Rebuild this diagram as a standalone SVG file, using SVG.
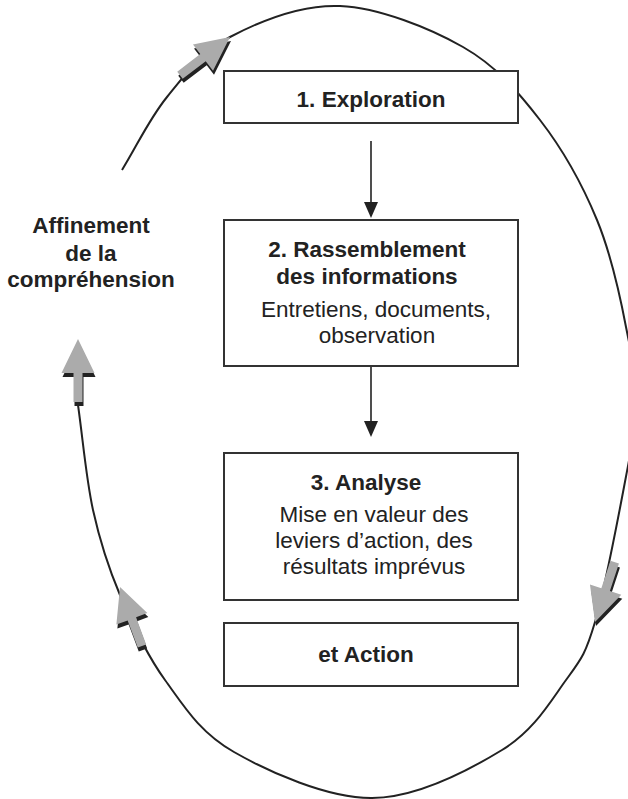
<svg xmlns="http://www.w3.org/2000/svg" xmlns:xlink="http://www.w3.org/1999/xlink" width="628" height="799" viewBox="0 0 628 799">
  <style>
    .box { fill: #ffffff; stroke: #333333; stroke-width: 2; }
    .t { font-family: "Liberation Sans", Arial, sans-serif; font-size: 22.5px; fill: #222222; text-anchor: middle; }
    .b { font-weight: bold; }
    .loop { fill: none; stroke: #222222; stroke-width: 2; }
    .link { fill: none; stroke: #222222; stroke-width: 1.6; }
    .head { fill: #222222; }
    .blk { fill: #ababab; }
    .blk-shadow { fill: #222222; }
  </style>
  <defs>
    <!-- block arrow pointing up, tip at the origin -->
    <polygon id="block-arrow" points="0,0 16.5,34 4.5,34 4.5,63 -4.5,63 -4.5,34 -16.5,34"/>
    <!-- small solid arrowhead pointing down, tip at the origin -->
    <polygon id="down-head" points="0,0 -7,-16 7,-16"/>
  </defs>

  <rect width="628" height="799" fill="#ffffff"/>

  <!-- cycle loop and the flow between steps -->
  <g id="connectors">
    <path class="loop" d="M122,170 C137,145.7 149,119.2 167,97 C185,74.8 201.2,52.2 230,37 C258.8,21.8 301.2,4.3 340,6 C378.8,7.7 429.7,28 463,47 C496.3,66 517.7,91.2 540,120 C562.3,148.8 582.8,185.5 597,220 C611.2,254.5 620.3,297 626,327 C632,357 636,373.3 636,400 C636,426.7 631,450 624,487 C617,524 604.5,589.8 595,622 C585.5,654.2 581.5,658.7 566,680 C550.5,701.3 534.3,730.3 502,750 C469.7,769.7 416.7,797.7 372,798 C327.3,798.3 268.5,771.7 234,752 C199.5,732.3 184,706.2 165,680 C146,653.8 132,623.3 120,595 C108,566.7 100,541.7 93,510 C86,478.3 83,440 78,405"/>
    <line class="link" x1="371" y1="141" x2="371" y2="204"/>
    <use xlink:href="#down-head" class="head" x="371" y="218"/>
    <line class="link" x1="371" y1="367" x2="371" y2="423"/>
    <use xlink:href="#down-head" class="head" x="371" y="437"/>
  </g>

  <!-- gray block arrows along the loop -->
  <g id="loop-arrows">
    <use xlink:href="#block-arrow" class="blk-shadow" transform="translate(79,343) rotate(0)"/>
    <use xlink:href="#block-arrow" class="blk" transform="translate(78,339) rotate(0)"/>
    <use xlink:href="#block-arrow" class="blk-shadow" transform="translate(231,41) rotate(52.6)"/>
    <use xlink:href="#block-arrow" class="blk" transform="translate(230,37) rotate(52.6)"/>
    <use xlink:href="#block-arrow" class="blk-shadow" transform="translate(596,626) rotate(198.2)"/>
    <use xlink:href="#block-arrow" class="blk" transform="translate(595,622) rotate(198.2)"/>
    <use xlink:href="#block-arrow" class="blk-shadow" transform="translate(121,591) rotate(-20.4)"/>
    <use xlink:href="#block-arrow" class="blk" transform="translate(120,587) rotate(-20.4)"/>
  </g>

  <g id="step-exploration">
    <rect class="box" x="224" y="71" width="294" height="52"/>
    <text class="t b" x="371" y="107">1. Exploration</text>
  </g>

  <g id="step-rassemblement">
    <rect class="box" x="224" y="220" width="294" height="146"/>
    <text class="t b" x="367" y="257">2. Rassemblement</text>
    <text class="t b" x="367" y="284">des informations</text>
    <text class="t" x="376" y="317">Entretiens, documents,</text>
    <text class="t" x="377" y="343">observation</text>
  </g>

  <g id="step-analyse">
    <rect class="box" x="224" y="453" width="294" height="147"/>
    <text class="t b" x="366" y="490">3. Analyse</text>
    <text class="t" x="374" y="522">Mise en valeur des</text>
    <text class="t" x="374" y="548">leviers d’action, des</text>
    <text class="t" x="374" y="574">résultats imprévus</text>
  </g>

  <g id="step-action">
    <rect class="box" x="224" y="623" width="294" height="63"/>
    <text class="t b" x="366" y="662">et Action</text>
  </g>

  <g id="label-affinement">
    <text class="t b" x="91" y="233">Affinement</text>
    <text class="t b" x="91" y="261">de la</text>
    <text class="t b" x="91" y="287">compréhension</text>
  </g>
</svg>
